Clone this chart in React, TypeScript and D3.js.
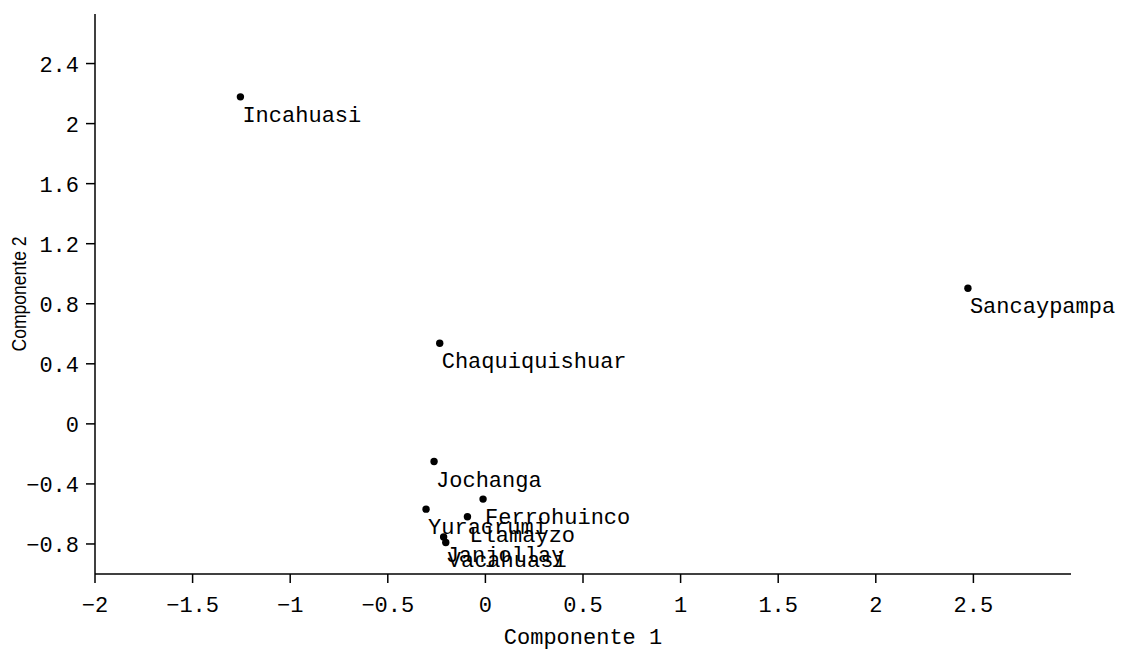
import React from "react";
import * as d3 from "d3";

// Site scores on the first two principal components
const sites = [
  "Incahuasi",
  "Sancaypampa",
  "Chaquiquishuar",
  "Jochanga",
  "Ferrohuinco",
  "Yuracrumi",
  "Llamayzo",
  "Janjollay",
  "Vacahuasi",
];
const comp1 = [-1.255, 2.472, -0.234, -0.263, -0.012, -0.304, -0.092, -0.214, -0.203];
const comp2 = [2.178, 0.903, 0.537, -0.251, -0.501, -0.568, -0.619, -0.754, -0.79];

const xTicks = [-2, -1.5, -1, -0.5, 0, 0.5, 1, 1.5, 2, 2.5];
const yTicks = [-0.8, -0.4, 0, 0.4, 0.8, 1.2, 1.6, 2, 2.4];

const W = 1124;
const H = 651;
const left = 95;
const right = 1071;
const top = 14;
const bottom = 574;

const mono = "'Courier New', 'Liberation Mono', monospace";
const sans = "Arial, 'Liberation Sans', sans-serif";

export default function App() {
  const x = d3.scaleLinear().domain([-2, 3]).range([left, right]);
  const y = d3.scaleLinear().domain([-1, 2.73]).range([bottom, top]);
  const fmt = (v: number) => d3.format("")(v);
  const data = sites.map((name, i) => ({ name, cx: x(comp1[i]), cy: y(comp2[i]) }));

  return (
    <svg
      width={W}
      height={H}
      style={{ position: "absolute", left: 0, top: 0, background: "#fff" }}
    >
      {/* x axis */}
      <line x1={left} x2={right} y1={bottom} y2={bottom} stroke="#000" strokeWidth={1.5} />
      {xTicks.map((t) => (
        <g key={"x" + t}>
          <line x1={x(t)} x2={x(t)} y1={bottom} y2={bottom + 9} stroke="#000" strokeWidth={1.5} />
          <text
            x={x(t)}
            y={bottom + 38}
            textAnchor="middle"
            fontFamily={mono}
            fontSize={22}
            fill="#000"
          >
            {fmt(t)}
          </text>
        </g>
      ))}
      <text
        x={(left + right) / 2}
        y={644}
        textAnchor="middle"
        fontFamily={mono}
        fontSize={22}
        fill="#000"
      >
        Componente 1
      </text>

      {/* y axis */}
      <line x1={left} x2={left} y1={top} y2={bottom} stroke="#000" strokeWidth={1.5} />
      {yTicks.map((t) => (
        <g key={"y" + t}>
          <line x1={left - 9} x2={left} y1={y(t)} y2={y(t)} stroke="#000" strokeWidth={1.5} />
          <text
            x={left - 16}
            y={y(t) + 8}
            textAnchor="end"
            fontFamily={mono}
            fontSize={22}
            fill="#000"
          >
            {fmt(t)}
          </text>
        </g>
      ))}
      <text
        transform={`translate(26, ${(top + bottom) / 2}) rotate(-90)`}
        textAnchor="middle"
        fontFamily={sans}
        fontSize={20}
        textLength={115}
        lengthAdjust="spacingAndGlyphs"
        fill="#000"
      >
        Componente 2
      </text>

      {/* points and labels */}
      {data.map((d) => (
        <g key={d.name}>
          <circle cx={d.cx} cy={d.cy} r={3.7} fill="#000" />
          <text
            x={d.cx + 2}
            y={d.cy + 25}
            fontFamily={mono}
            fontSize={22}
            fill="#000"
          >
            {d.name}
          </text>
        </g>
      ))}
    </svg>
  );
}
